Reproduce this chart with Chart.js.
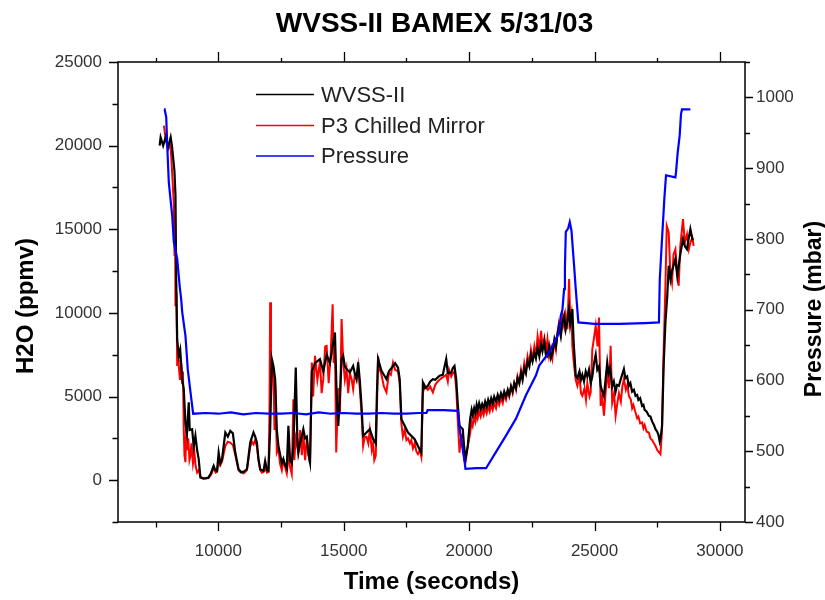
<!DOCTYPE html>
<html>
<head>
<meta charset="utf-8">
<script src="https://cdn.jsdelivr.net/npm/chart.js@4"></script>
<style>
html,body{margin:0;padding:0;background:#fff;}
#wrap{width:825px;height:600px;position:relative;}
</style>
</head>
<body>
<div id="wrap"><canvas id="c" width="825" height="600"></canvas></div>
<script>
const chartTitle = 'WVSS-II BAMEX 5/31/03';
const xTitle = 'Time (seconds)';
const yLeftTitle = 'H2O (ppmv)';
const yRightTitle = 'Pressure (mbar)';
const seriesNames = ['WVSS-II', 'P3 Chilled Mirror', 'Pressure'];

const xTickValues = [7500,10000,12500,15000,17500,20000,22500,25000,27500,30000];
const xTickLabels = ['10000','15000','20000','25000','30000'];

const wvssTime = [7660,7700,7800,7900,8000,8100,8150,8250,8292,8320,8360,8424,8480,8559,8622,8690,8750,8821,8860,8956,9020,9087,9155,9218,9286,9405,9500,9604,9700,9814,9880,9949,10013,10080,10148,10279,10380,10477,10580,10676,10807,10900,11006,11141,11272,11403,11470,11538,11602,11670,11801,11868,11940,11999,12067,12135,12198,12266,12333,12397,12470,12532,12595,12660,12730,12794,12860,12929,12993,13088,13150,13191,13260,13390,13460,13528,13600,13656,13729,13855,14054,14185,14319,14450,14558,14650,14720,14781,14850,14915,14979,15046,15114,15245,15376,15440,15511,15575,15640,15710,15774,15909,16040,16171,16278,16320,16370,16505,16600,16704,16800,16966,17050,17165,17232,17300,17431,17562,17697,17828,17959,18094,18157,18250,18356,18450,18555,18650,18821,18950,19087,19150,19286,19350,19417,19485,19550,19616,19747,19800,19854,19945,20040,20100,20144,20200,20250,20300,20342,20400,20460,20520,20580,20640,20700,20760,20820,20880,20940,21000,21073,21140,21200,21270,21340,21400,21470,21540,21600,21670,21735,21800,21870,21930,22001,22070,22130,22200,22265,22330,22400,22464,22528,22600,22662,22730,22800,22870,22925,23000,23060,23124,23190,23260,23322,23400,23460,23521,23580,23656,23720,23788,23850,23920,23986,24030,24080,24117,24160,24186,24252,24316,24400,24460,24515,24580,24650,24713,24780,24848,24912,24980,25047,25110,25178,25245,25310,25376,25440,25507,25560,25620,25705,25770,25841,25900,25972,26040,26100,26171,26230,26300,26370,26430,26500,26570,26635,26700,26750,26820,26898,26950,27000,27080,27164,27230,27300,27370,27430,27500,27550,27600,27629,27692,27760,27827,27900,27958,28030,28089,28225,28300,28420,28527,28600,28686,28760,28821,28900,28952];
const wvssH2O = [20000,20500,20000,20500,19900,20500,20000,18500,17000,12000,8430,7430,7800,6040,5440,3400,2800,4650,3000,3050,2000,2650,1800,1256,160,100,120,150,400,855,600,556,1650,1000,1256,2850,2600,2950,2800,1650,658,500,500,658,2250,2850,2600,2250,1256,658,556,1150,600,556,3000,7240,6830,6040,3000,2050,1500,1000,1256,900,700,3250,1200,1000,2000,6730,2500,1650,2200,3050,2500,2600,1500,1060,6500,7000,7240,6500,7500,7000,8000,8830,5000,3250,5000,7240,7430,6800,6640,6440,6830,6400,6040,7040,6000,4440,2650,2850,3050,2450,2200,5000,7240,6540,6300,6040,6500,6830,7000,6730,6040,3650,3250,2850,2650,2450,2050,1650,5840,5500,5640,5900,6040,6000,6240,6300,7240,6400,6440,6700,6830,6040,4500,3250,3050,2000,1256,2050,3650,4200,3900,4300,4000,4500,4200,4600,4250,4550,4300,4700,4400,4800,4500,4900,4600,5000,4700,5100,4800,5200,4900,5300,5000,5400,5100,5600,5300,5800,5500,6100,5800,6400,6000,6700,6400,7100,6800,7500,7100,7600,7300,7900,7400,8100,7700,8300,7500,7400,8000,7300,7600,8400,8000,8700,9200,8600,9400,9830,9000,9500,10230,9300,9800,10230,8500,7830,6240,6100,6500,6000,6300,5900,6500,6200,6600,5800,6200,7000,7500,6600,6800,5640,5300,5040,6000,7040,6400,6700,5600,5900,5300,5700,5640,6000,6300,6640,6100,6200,5640,5800,5300,5400,5040,5100,4800,4900,4440,4500,4200,4100,3850,3800,3500,3300,3050,2900,2700,2300,2450,3250,7000,9430,11000,12820,12000,12500,13220,12200,13500,14410,14000,13810,14500,15010,14400,14410];

const p3Time = [7830,7900,7990,8090,8120,8180,8225,8253,8280,8292,8330,8360,8400,8424,8470,8520,8559,8590,8622,8650,8690,8720,8760,8800,8850,8889,8930,8990,9050,9100,9155,9218,9286,9405,9500,9604,9700,9814,9900,9949,10013,10080,10148,10279,10380,10477,10580,10676,10807,10900,11006,11080,11141,11272,11340,11403,11470,11538,11602,11670,11740,11801,11868,11940,11999,12040,12067,12100,12135,12198,12240,12266,12333,12397,12460,12532,12595,12660,12730,12794,12860,12929,12993,13030,13088,13191,13260,13330,13390,13460,13528,13600,13656,13729,13780,13855,13950,14054,14120,14185,14260,14319,14400,14480,14558,14600,14650,14700,14781,14850,14915,14979,15046,15114,15180,15245,15320,15376,15440,15511,15575,15640,15710,15774,15840,15909,15980,16040,16120,16171,16220,16278,16320,16370,16440,16505,16600,16704,16800,16880,16966,17050,17165,17232,17300,17360,17431,17500,17562,17640,17697,17760,17828,17900,17959,18030,18094,18157,18220,18300,18356,18450,18555,18650,18750,18821,18900,19000,19087,19150,19200,19286,19350,19417,19485,19550,19616,19680,19747,19800,19854,19945,20040,20100,20144,20200,20250,20300,20342,20400,20460,20520,20580,20640,20700,20760,20820,20880,20940,21000,21073,21140,21200,21270,21340,21400,21470,21540,21600,21670,21735,21800,21870,21930,22001,22070,22130,22200,22265,22330,22400,22464,22528,22600,22662,22730,22800,22870,22925,23000,23060,23124,23190,23260,23322,23400,23460,23521,23580,23656,23720,23788,23850,23920,23986,24030,24080,24117,24186,24250,24316,24400,24460,24515,24600,24660,24713,24800,24848,24912,24980,25047,25120,25178,25245,25310,25376,25440,25507,25580,25642,25705,25780,25841,25900,25972,26050,26110,26171,26250,26310,26370,26450,26500,26550,26635,26700,26750,26820,26898,26950,27000,27080,27164,27230,27300,27370,27430,27500,27550,27629,27692,27740,27827,27880,27958,28020,28089,28150,28225,28290,28356,28420,28527,28600,28686,28760,28821,28900,28952];
const p3H2O = [21200,20400,19800,20000,19400,17800,16500,13400,14000,10400,11200,6830,7200,6800,6000,7000,5800,6500,3050,1500,1076,3200,1800,2500,1200,1450,2200,1000,1600,800,460,600,200,120,100,120,300,700,450,500,1200,900,1100,2050,2300,2250,2100,1500,600,450,400,500,600,2000,2300,2150,2400,2000,1200,600,450,500,700,450,500,4000,10630,5000,7000,6400,3000,5800,1650,1900,1000,600,1200,800,400,1500,800,360,4840,1200,2500,1650,3000,1500,2800,1200,2450,1500,1000,7040,5000,7430,6000,7100,5200,6040,8000,8030,5800,7500,10520,7000,8200,1650,5500,4000,9630,7100,6000,6640,5200,6400,6000,5440,6300,6040,6800,5500,4000,2050,2600,2600,2200,3000,1800,2200,1200,1450,4000,7400,6600,6300,5600,5250,6400,6300,7040,6600,6500,5800,3400,2600,3000,2400,2500,2200,2400,1900,2200,1700,1555,1800,1400,5200,5700,5500,5400,5600,5250,5700,5900,6000,6100,6200,6300,5900,6600,6200,6400,6500,5500,3500,1650,2600,2800,1200,1060,2000,2800,3500,3250,3800,3500,4000,3700,4100,3800,4200,3900,4300,4000,4400,4100,4500,4200,4600,4300,4800,4500,4900,4600,5100,4800,5300,5000,5600,5200,5800,5400,6200,5800,6600,6100,7000,6500,7400,6900,7800,7200,8000,7400,8600,7800,8930,8000,8500,7600,8430,7400,7900,7300,8300,7800,8800,9400,8800,9830,9200,9900,9030,12020,9600,10000,8000,6830,6000,5640,6200,5200,5040,5500,4800,5800,5000,5250,7830,8500,9230,8000,9730,4440,5000,3850,5200,6500,5500,8030,4640,5200,3850,4500,5200,4700,5600,6040,5400,5700,5040,4800,4300,4500,4050,3700,3800,3400,3450,3100,3300,2900,2850,2500,2400,2200,2050,1800,1700,1555,3000,6830,11620,15200,14810,12500,11820,13500,13810,12500,11620,14000,15610,14200,14700,13800,14210,14500,14010];

const presTime = [7830,7860,7923,7963,8026,8094,8161,8225,8360,8463,8519,8559,8690,8781,8889,8996,9500,10000,10500,11000,11500,12000,12500,13000,13500,14000,14500,15000,15500,16000,16500,17000,17500,18000,18300,18344,19000,19554,19620,19720,19814,19854,20300,20676,21073,21470,21868,22265,22662,22794,23192,23589,23656,23720,23787,23820,23855,23950,24013,24080,24186,24252,24355,25000,26000,27000,27568,27602,27692,27788,27851,28225,28249,28316,28395,28447,28487,28821];
const presMbar = [983,983,972,932,880,856,833,796,772,732,715,697,663,616,584,553,554,553,555,552,554,553,553,554,552,555,553,554,553,553,554,553,553,554,554,558,558,557,532,508,487,475,476,476,499,522,546,579,607,621,640,668,692,700,729,760,810,815,824,812,762,729,682,680,680,681,682,743,800,859,890,887,894,922,946,976,983,983];

const xMin = 6000, xMax = 31000;
const yMin = -2500, yMax = 25000, yStep = 2500, yLabelStep = 5000;
const pMin = 400, pMax = 1050, pStep = 50, pLabelStep = 100;

const toXY = (ts, vs) => ts.map((t, i) => ({x: t, y: vs[i]}));
const FONT = '"Liberation Sans", Arial, sans-serif';

const decorPlugin = {
  id: 'decor',
  afterDraw(chart) {
    const ctx = chart.ctx;
    const a = chart.chartArea;
    ctx.save();
    ctx.strokeStyle = '#000';
    ctx.lineWidth = 1.5;
    ctx.strokeRect(a.left, a.top, a.right - a.left, a.bottom - a.top);
    ctx.lineWidth = 1.3;
    ctx.beginPath();
    const xs = chart.scales.x;
    xs.ticks.forEach(t => {
      const p = Math.round(xs.getPixelForValue(t.value)) + 0.5;
      const major = xTickLabels.includes(String(t.value));
      const lb = major ? 9 : 5.5, lt = major ? 10 : 4;
      ctx.moveTo(p, a.bottom); ctx.lineTo(p, a.bottom + lb);
      ctx.moveTo(p, a.top); ctx.lineTo(p, a.top - lt);
    });
    const yl = chart.scales.y;
    yl.ticks.forEach(t => {
      if (t.value % yStep !== 0) return;
      const p = Math.round(yl.getPixelForValue(t.value)) + 0.5;
      const major = t.value % yLabelStep === 0;
      ctx.moveTo(a.left, p); ctx.lineTo(a.left - (major ? 9 : 5.5), p);
    });
    const yr = chart.scales.y2;
    yr.ticks.forEach(t => {
      if (t.value % pStep !== 0) return;
      const p = Math.round(yr.getPixelForValue(t.value)) + 0.5;
      const major = t.value % pLabelStep === 0;
      ctx.moveTo(a.right, p); ctx.lineTo(a.right + (major ? 8 : 5), p);
    });
    ctx.stroke();

    ctx.fillStyle = '#000';
    ctx.textAlign = 'center';
    ctx.textBaseline = 'alphabetic';
    ctx.font = 'bold 28px ' + FONT;
    ctx.fillText(chartTitle, (a.left + a.right) / 2 + 3, 32);
    ctx.font = 'bold 24px ' + FONT;
    ctx.fillText(xTitle, (a.left + a.right) / 2, 589);
    ctx.save();
    ctx.translate(33, 306);
    ctx.rotate(-Math.PI / 2);
    ctx.font = 'bold 24px ' + FONT;
    ctx.fillText(yLeftTitle, 0, 0);
    ctx.restore();
    ctx.save();
    ctx.translate(821, 309);
    ctx.rotate(-Math.PI / 2);
    ctx.font = 'bold 23px ' + FONT;
    ctx.fillText(yRightTitle, 0, 0);
    ctx.restore();

    const legY = [94.5, 125.5, 156];
    ctx.font = '22px ' + FONT;
    ctx.textAlign = 'left';
    ctx.textBaseline = 'middle';
    [0, 1, 2].forEach((di, k) => {
      const ds = chart.data.datasets[di];
      ctx.strokeStyle = ds.borderColor;
      ctx.lineWidth = 1.5;
      ctx.beginPath();
      ctx.moveTo(256, legY[k]); ctx.lineTo(314, legY[k]);
      ctx.stroke();
      ctx.fillStyle = '#222';
      ctx.fillText(ds.label, 321, legY[k] + 1);
    });
    ctx.restore();
  }
};

new Chart(document.getElementById('c'), {
  type: 'line',
  data: {
    datasets: [
      {label: seriesNames[0], data: toXY(wvssTime, wvssH2O), borderColor: '#000000', borderWidth: 2.2, pointRadius: 0, yAxisID: 'y', order: 1, tension: 0},
      {label: seriesNames[1], data: toXY(p3Time, p3H2O), borderColor: '#ff0000', borderWidth: 2, pointRadius: 0, yAxisID: 'y', order: 2, tension: 0},
      {label: seriesNames[2], data: toXY(presTime, presMbar), borderColor: '#0000ff', borderWidth: 2.2, pointRadius: 0, yAxisID: 'y2', order: 0, tension: 0}
    ]
  },
  options: {
    responsive: false,
    animation: false,
    events: [],
    layout: {padding: {top: 62, left: 0, right: 0, bottom: 0}},
    plugins: {legend: {display: false}, title: {display: false}, tooltip: {enabled: false}},
    scales: {
      x: {
        type: 'linear', position: 'bottom', min: xMin, max: xMax,
        afterBuildTicks(s) { s.ticks = xTickValues.map(v => ({value: v})); },
        afterFit(s) { s.height = 78; },
        grid: {display: false, drawTicks: false},
        border: {display: false},
        ticks: {padding: 19, color: '#333', font: {family: FONT, size: 17},
          maxRotation: 0, minRotation: 0, autoSkip: false,
          callback: v => (xTickLabels.includes(String(v)) ? String(v) : '')}
      },
      y: {
        type: 'linear', position: 'left', min: yMin, max: yMax,
        afterFit(s) { s.width = 118; },
        grid: {display: false, drawTicks: false},
        border: {display: false},
        ticks: {stepSize: yStep, padding: 16, color: '#333', font: {family: FONT, size: 17}, autoSkip: false,
          callback: v => (v % yLabelStep === 0 ? String(v) : '')}
      },
      y2: {
        type: 'linear', position: 'right', min: pMin, max: pMax,
        afterFit(s) { s.width = 80; },
        grid: {display: false, drawTicks: false},
        border: {display: false},
        ticks: {stepSize: pStep, padding: 11, color: '#333', font: {family: FONT, size: 17}, autoSkip: false,
          callback: v => (v % pLabelStep === 0 ? String(v) : '')}
      }
    }
  },
  plugins: [decorPlugin]
});
</script>
</body>
</html>
